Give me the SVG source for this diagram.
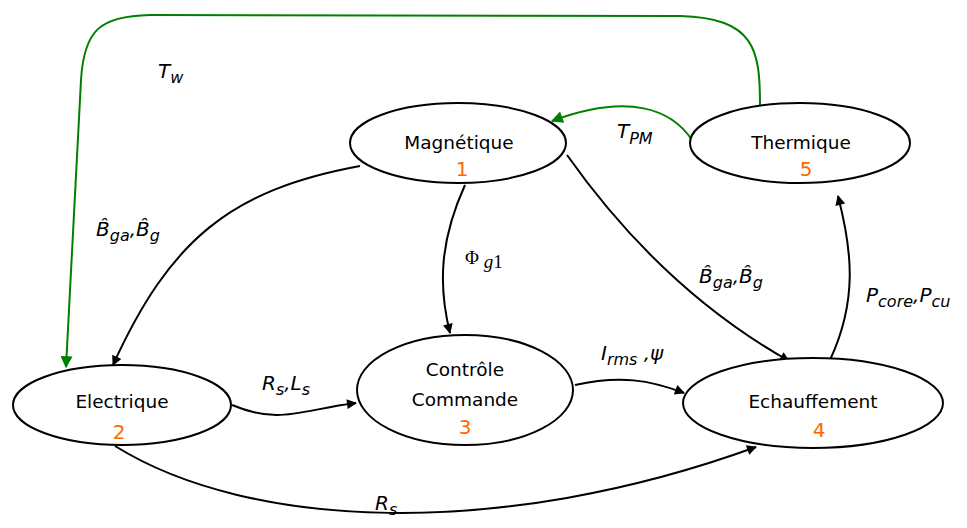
<svg xmlns="http://www.w3.org/2000/svg" width="967" height="528" viewBox="0 0 967 528">
<defs>
<marker id="ab" viewBox="0 0 10 10" refX="9" refY="5" markerWidth="14" markerHeight="10" markerUnits="userSpaceOnUse" orient="auto"><path d="M0,0 L10,5 L0,10 z" fill="#000"/></marker>
<marker id="ag" viewBox="0 0 10 10" refX="9" refY="5" markerWidth="18" markerHeight="12" markerUnits="userSpaceOnUse" orient="auto"><path d="M0,0 L10,5 L0,10 z" fill="#008000"/></marker>
</defs>
<style>
.n{fill:#fff;stroke:#000;stroke-width:2}
.t{font-family:"DejaVu Sans",sans-serif;font-size:18.5px;fill:#000;text-anchor:middle}
.num{font-family:"DejaVu Sans",sans-serif;font-size:20px;fill:#ff6600;text-anchor:middle}
.k{fill:none;stroke:#000;stroke-width:2;marker-end:url(#ab)}
.g{fill:none;stroke:#008000;stroke-width:2;marker-end:url(#ag)}
.l{font-family:"DejaVu Sans",sans-serif;font-style:italic;font-size:20px;fill:#000}
.s{font-size:16px}
.m{font-family:"Liberation Serif",serif;font-size:19px;fill:#000}
</style>
<g id="connectors">
<path class="g" d="M760,105 C760,50 755,18 680,16 L150,15 C100,16 84,30 81,80 L66,367"/>
<path class="g" d="M692,140 C672,110 630,92 552,121"/>
<path class="k" d="M360,166 C230,190 170,240 113,365"/>
<path class="k" d="M465,185 C440,240 438,285 450,333"/>
<path class="k" d="M567,155 C620,230 690,305 789,361"/>
<path class="k" d="M232,405 C280,425 300,410 356,403"/>
<path class="k" d="M575,385 C620,375 650,380 684,393"/>
<path class="k" d="M115,446 C250,530 500,540 756,447"/>
<path class="k" d="M830,360 C858,300 852,250 838,196"/>
</g>
<g id="labels">
<text class="l" x="158" y="78">T<tspan class="s" dy="5">w</tspan></text>
<text class="l" x="96" y="236">B̂<tspan class="s" dy="5">ga</tspan><tspan dy="-5">,B̂</tspan><tspan class="s" dy="5">g</tspan></text>
<text class="m" x="465" y="264">Φ <tspan font-style="italic" dy="4">g</tspan><tspan dy="0">1</tspan></text>
<text class="l" x="262" y="390">R<tspan class="s" dy="5">s</tspan><tspan dy="-5">,L</tspan><tspan class="s" dy="5">s</tspan></text>
<text class="l" x="601" y="360">I<tspan class="s" dy="5">rms</tspan><tspan dy="-5"> ,ψ</tspan></text>
<text class="l" x="866" y="302">P<tspan class="s" dy="5">core</tspan><tspan dy="-5">,P</tspan><tspan class="s" dy="5">cu</tspan></text>
<text class="l" x="617" y="138">T<tspan class="s" dy="6">PM</tspan></text>
<text class="l" x="375" y="510">R<tspan class="s" dy="5">s</tspan></text>
<text class="l" x="699" y="283">B̂<tspan class="s" dy="5">ga</tspan><tspan dy="-5">,B̂</tspan><tspan class="s" dy="5">g</tspan></text>
</g>
<g id="magnetique"><ellipse class="n" cx="458" cy="143" rx="108" ry="40"/><text class="t" x="459" y="149">Magnétique</text><text class="num" x="462" y="176">1</text></g>
<g id="thermique"><ellipse class="n" cx="800" cy="143" rx="110" ry="40"/><text class="t" x="801" y="149">Thermique</text><text class="num" x="806" y="176">5</text></g>
<g id="electrique"><ellipse class="n" cx="122" cy="405" rx="109" ry="40"/><text class="t" x="122" y="408">Electrique</text><text class="num" x="119" y="439">2</text></g>
<g id="controle"><ellipse class="n" cx="465" cy="390" rx="108" ry="55"/><text class="t" x="465" y="376">Contrôle</text><text class="t" x="465" y="406">Commande</text><text class="num" x="465" y="434">3</text></g>
<g id="echauffement"><ellipse class="n" cx="813" cy="403" rx="130" ry="45"/><text class="t" x="813" y="408">Echauffement</text><text class="num" x="819" y="437">4</text></g>
</svg>
